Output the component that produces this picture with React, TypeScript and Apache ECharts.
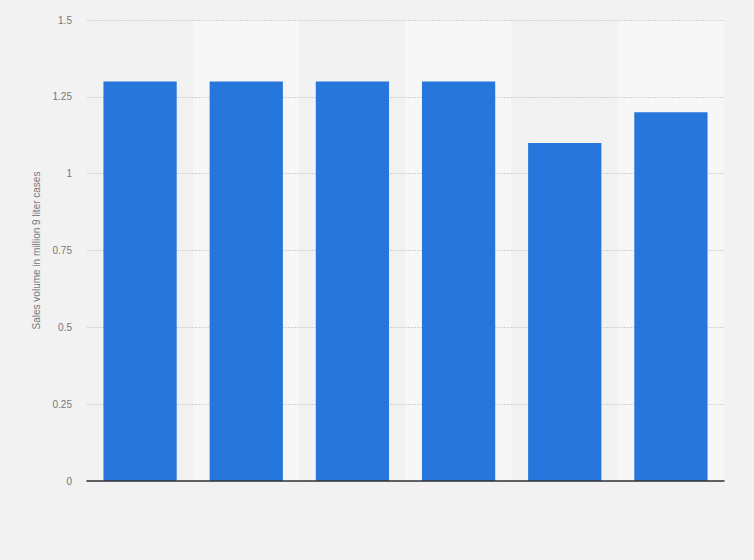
import { useEffect, useRef } from 'react';
import * as echarts from 'echarts';

// categories have no visible labels in the reference
const categories = ['1', '2', '3', '4', '5', '6'];
const salesVolume = [1.3, 1.3, 1.3, 1.3, 1.1, 1.2];
const yAxisName = 'Sales volume in million 9 liter cases';

export default function App() {
  const chartRef = useRef<HTMLDivElement>(null);

  useEffect(() => {
    document.body.style.margin = '0';
    if (!chartRef.current) return;
    const chart = echarts.init(chartRef.current, undefined, { renderer: 'svg' });

    const option: echarts.EChartsOption = {
      animation: false,
      backgroundColor: '#f2f2f2',
      grid: { left: 87, right: 30, top: 20, bottom: 79 },
      xAxis: [
        {
          type: 'category',
          data: categories,
          z: 3,
          axisLine: { show: true, lineStyle: { color: '#333', width: 1.5 } },
          axisTick: { show: false },
          axisLabel: { show: false },
        },
        {
          // background bands only
          type: 'category',
          data: categories,
          position: 'bottom',
          z: 0,
          axisLine: { show: false },
          axisTick: { show: false },
          axisLabel: { show: false },
          splitArea: { show: true, areaStyle: { color: ['#f2f2f2', '#f7f7f7'] } },
        },
      ],
      yAxis: {
        type: 'value',
        min: 0,
        max: 1.5,
        interval: 0.25,
        z: 1,
        name: yAxisName,
        nameLocation: 'middle',
        nameGap: 41,
        nameTextStyle: { color: '#777', fontSize: 10, fontFamily: 'Arial, Liberation Sans, sans-serif' },
        axisLine: { show: false },
        axisTick: { show: false },
        axisLabel: {
          color: '#777',
          fontSize: 10,
          margin: 15,
          fontFamily: 'Arial, Liberation Sans, sans-serif',
          formatter: (v: number) => String(v),
        },
        splitLine: { lineStyle: { color: '#d2d2d2', type: [2, 1], width: 1 } },
      },
      series: [
        {
          type: 'bar',
          data: salesVolume,
          barWidth: '69%',
          z: 2,
          itemStyle: { color: '#2776db' },
        },
      ],
    };

    chart.setOption(option);
    return () => {
      chart.dispose();
    };
  }, []);

  return <div ref={chartRef} style={{ width: 754, height: 560 }} />;
}
